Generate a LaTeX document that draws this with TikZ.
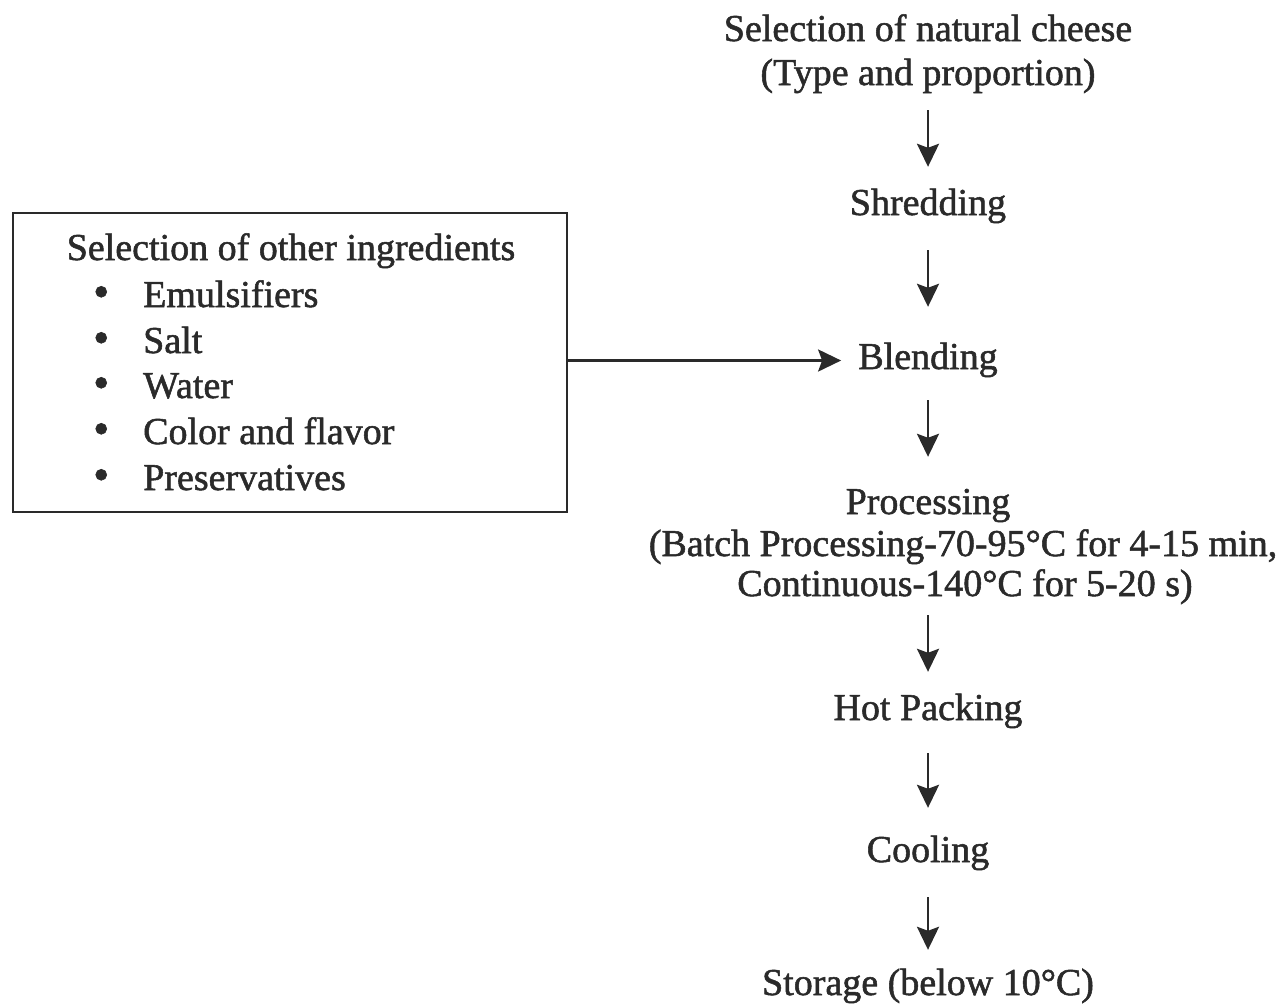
\documentclass[tikz,border=0pt]{standalone}
\usepackage{fontspec}
\setmainfont{Liberation Serif}[FakeBold=1.4]
\usetikzlibrary{arrows.meta}
\definecolor{ink}{HTML}{2a2a2a}
\tikzset{
  txt/.style={font=\fontsize{38}{44}\selectfont, text=ink, inner sep=0pt, text height=26pt, text depth=9pt, anchor=base},
  item/.style={txt, anchor=base west},
  flow/.style={draw=ink, line width=2.8pt, -{Stealth[length=23pt,width=22pt,inset=4pt]}},
  ingbox/.style={draw=ink, line width=2.8pt, minimum width=554pt, minimum height=299pt, inner sep=0pt}
}
\begin{document}
\begin{tikzpicture}[x=1pt,y=-1pt]
\useasboundingbox (0,0) rectangle (1287,1005);
% main column
\node[txt] (sel1) at (928,41) {Selection of natural cheese};
\node[txt] (sel2) at (928,85) {(Type and proportion)};
\node[txt] (shred) at (928,215) {Shredding};
\node[txt] (blend) at (928,369) {Blending};
\node[txt] (proc1) at (928,514) {Processing};
\node[txt] (proc2) at (963,556) {(Batch Processing-70-95°C for 4-15 min,};
\node[txt] (proc3) at (965,596) {Continuous-140°C for 5-20 s)};
\node[txt] (hot) at (928,720) {Hot Packing};
\node[txt] (cool) at (928,862) {Cooling};
\node[txt] (stor) at (928,995) {Storage (below 10°C)};
% ingredients box
\node[ingbox] (box) at (290,362.5) {};
\node[txt] (ing) at (291,260) {Selection of other ingredients};
\node[item] (i1) at (93,307) {\makebox[50pt][l]{\fontsize{46}{44}\selectfont•}Emulsifiers};
\node[item] (i2) at (93,353) {\makebox[50pt][l]{\fontsize{46}{44}\selectfont•}Salt};
\node[item] (i3) at (93,398) {\makebox[50pt][l]{\fontsize{46}{44}\selectfont•}Water};
\node[item] (i4) at (93,444) {\makebox[50pt][l]{\fontsize{46}{44}\selectfont•}Color and flavor};
\node[item] (i5) at (93,490) {\makebox[50pt][l]{\fontsize{46}{44}\selectfont•}Preservatives};
% connectors
\draw[flow, shorten <=16pt, shorten >=22pt] (sel2.south) -- (shred.north);
\draw[flow, shorten <=26pt, shorten >=36pt] (shred.south) -- (blend.north);
\draw[flow, shorten <=22pt, shorten >=31pt] (blend.south) -- (proc1.north);
\draw[flow, shorten <=10pt, shorten >=22pt] (proc3.south -| proc1.south) -- (hot.north);
\draw[flow, shorten <=24pt, shorten >=28pt] (hot.south) -- (cool.north);
\draw[flow, shorten <=26pt, shorten >=19pt] (cool.south) -- (stor.north);
\draw[flow, shorten >=17pt] (box.east |- blend.center) -- (blend.west |- blend.center);
\end{tikzpicture}
\end{document}
